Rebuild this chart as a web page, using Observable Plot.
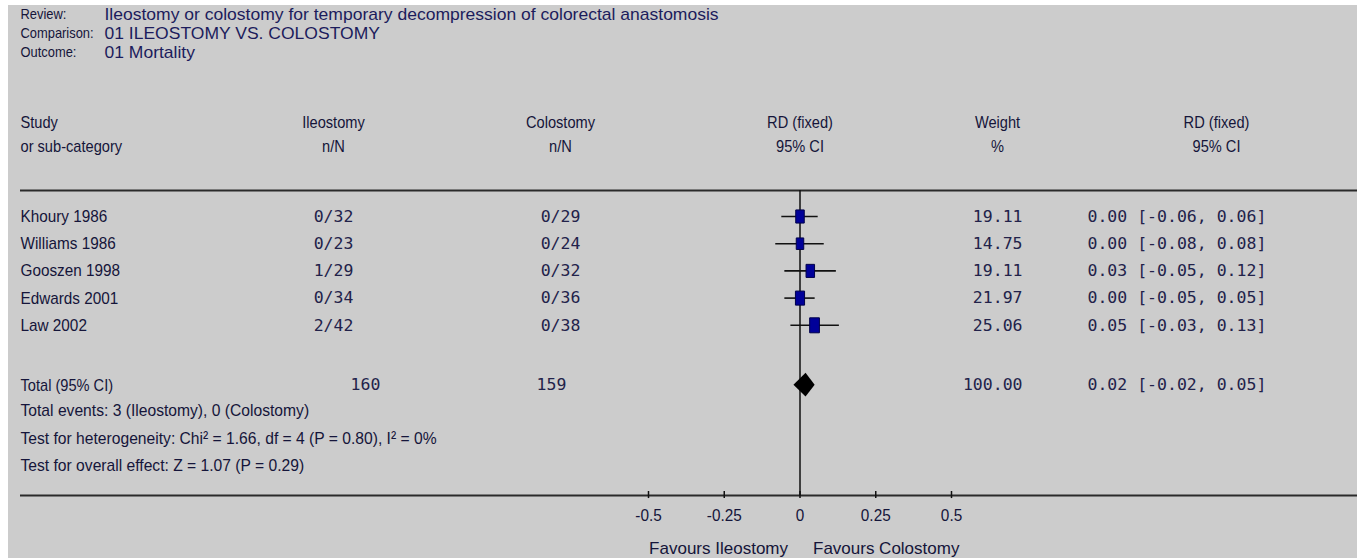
<!DOCTYPE html>
<html><head><meta charset="utf-8">
<script src="https://cdn.jsdelivr.net/npm/d3@7"></script>
<script src="https://cdn.jsdelivr.net/npm/@observablehq/plot@0.6"></script>
<style>
html,body{margin:0;padding:0;background:#fff;overflow:hidden}
#wrap{position:relative;width:1357px;height:558px;background:#cccccc}
#wrap svg{position:absolute;left:0;top:0}
.strip{position:absolute;background:#fff}
</style></head><body>
<div id="wrap"><div class="strip" style="left:0;top:0;width:8px;height:558px"></div><div class="strip" style="left:0;top:0;width:1357px;height:5px"></div></div>
<script>
// ---- data ----
const headerLabels = ["Review:", "Comparison:", "Outcome:"];
const headerValues = ["Ileostomy or colostomy for temporary decompression of colorectal anastomosis", "01 ILEOSTOMY VS. COLOSTOMY", "01 Mortality"];
const columnTitles = [["Study", "or sub-category"], ["Ileostomy", "n/N"], ["Colostomy", "n/N"], ["RD (fixed)", "95% CI"], ["Weight", "%"], ["RD (fixed)", "95% CI"]];
const studies = ["Khoury 1986", "Williams 1986", "Gooszen 1998", "Edwards 2001", "Law 2002"];
const ileoEvents = [0, 0, 1, 0, 2];
const ileoTotal = [32, 23, 29, 34, 42];
const coloEvents = [0, 0, 0, 0, 0];
const coloTotal = [29, 24, 32, 36, 38];
const rdValues = [0.00, 0.00, 0.034, 0.00, 0.048];
const ciLow = [-0.06, -0.08, -0.05, -0.05, -0.03];
const ciHigh = [0.06, 0.08, 0.12, 0.05, 0.13];
const weights = [19.11, 14.75, 19.11, 21.97, 25.06];
const totalLabel = "Total (95% CI)";
const totalIleo = 160, totalColo = 159, totalWeight = 100.00;
const totalRd = 0.02, totalLow = -0.02, totalHigh = 0.05;
const footnotes = ["Total events: 3 (Ileostomy), 0 (Colostomy)", "Test for heterogeneity: Chi² = 1.66, df = 4 (P = 0.80), I² = 0%", "Test for overall effect: Z = 1.07 (P = 0.29)"];
const tickValues = [-0.5, -0.25, 0, 0.25, 0.5];
const tickLabels = ["-0.5", "-0.25", "0", "0.25", "0.5"];
const favourLabels = ["Favours Ileostomy", "Favours Colostomy"];

// ---- layout (row units, pixel offsets) ----
const sans = '"Liberation Sans",Arial,sans-serif';
const mono = '"DejaVu Sans Mono","Liberation Mono",monospace';
const ink = "#15153a";
const numInk = "#22224a";
const totalRow = 6.2;
const footRows = [7.13, 8.16, 9.15];
const headerRows = [-7.43, -6.73, -6.03];
const colHeadRows = [-3.46, -2.57];
const headLine = -0.956, baseLine = 10.257;
const colDx = [0, 313, 540, null, 977, 1196];
const totalDx = [345, 531];
const ciDx = 1067, weightDx = 1002;
// horizontal squeeze of each group of sans-serif texts (reference uses a condensed face)
const squeeze = {"header labels": 0.86, "header values": 1.03, "column headers": 0.86, "study names": 0.9,
  "total label": 0.86, "footnotes": 0.92, "axis labels": 0.9, "favours labels": 1.0};

const ci = (r, l, h) => `${r.toFixed(2)} [${l.toFixed(2)}, ${h.toFixed(2)}]`;
const rows = studies.map((s, i) => ({
  study: s, row: i,
  ileo: `${ileoEvents[i]}/${ileoTotal[i]}`, colo: `${coloEvents[i]}/${coloTotal[i]}`,
  rd: rdValues[i], lo: ciLow[i], hi: ciHigh[i], w: weights[i],
  wtxt: weights[i].toFixed(2), citxt: ci(rdValues[i], ciLow[i], ciHigh[i])
}));
const totalRowData = [{row: totalRow, label: totalLabel, ileo: String(totalIleo), colo: String(totalColo), wtxt: totalWeight.toFixed(2), citxt: ci(totalRd, totalLow, totalHigh)}];
const diamondHalf = 0.44;
const diamond = [
  {x: totalLow, y1: totalRow, y2: totalRow},
  {x: totalRd, y1: totalRow - diamondHalf, y2: totalRow + diamondHalf},
  {x: totalHigh, y1: totalRow, y2: totalRow}
];
const headerData = headerLabels.map((l, i) => ({label: l, value: headerValues[i], row: headerRows[i]}));
const colHeadData = [];
columnTitles.forEach((t, c) => t.forEach((txt, k) => colHeadData.push({c, txt, row: colHeadRows[k]})));

const tallSquare = {
  draw(ctx, size) {
    const r = Math.sqrt(size / Math.PI), hw = r * 0.65, hh = r;
    ctx.moveTo(-hw, -hh); ctx.lineTo(hw, -hh); ctx.lineTo(hw, hh); ctx.lineTo(-hw, hh); ctx.closePath();
  }
};

const textOpts = {fontFamily: sans, fontSize: 17, fill: ink};
const monoOpts = {fontFamily: mono, fontSize: 16.5, fill: numInk};
const mid = {frameAnchor: "left", textAnchor: "middle"};
const colHead = (c, extra) => Plot.text(colHeadData.filter(d => d.c === c), {y: "row", text: "txt", ariaDescription: "column headers", ...extra, ...textOpts});

const chart = Plot.plot({
  width: 1357, height: 558,
  marginLeft: 20, marginRight: 0, marginTop: 0, marginBottom: 63,
  style: {background: "transparent", fontFamily: sans},
  x: {domain: [-0.5, 0.5], range: [648, 951], axis: null},
  y: {domain: [0, 10], range: [216, 488], axis: null},
  r: {type: "sqrt", domain: [0, 25.06], range: [0, 7.5]},
  marks: [
    // header block
    Plot.text(headerData, {y: "row", text: "label", frameAnchor: "left", textAnchor: "start", ariaDescription: "header labels", ...textOpts, fontSize: 15}),
    Plot.text(headerData, {y: "row", text: "value", frameAnchor: "left", textAnchor: "start", dx: 84, ariaDescription: "header values", ...textOpts, fill: "#1c1c5c"}),
    // column headers
    colHead(0, {frameAnchor: "left", textAnchor: "start"}),
    colHead(1, {...mid, dx: colDx[1]}),
    colHead(2, {...mid, dx: colDx[2]}),
    colHead(3, {x: 0}),
    colHead(4, {...mid, dx: colDx[4]}),
    colHead(5, {...mid, dx: colDx[5]}),
    // separators and zero line
    Plot.ruleY([headLine, baseLine], {stroke: "#2a2a2a", strokeWidth: 2}),
    Plot.ruleX([0], {y1: headLine, y2: baseLine, stroke: "#111", strokeWidth: 1.5}),
    // study rows
    Plot.text(rows, {y: "row", text: "study", frameAnchor: "left", textAnchor: "start", ariaDescription: "study names", ...textOpts}),
    Plot.text(rows, {y: "row", text: "ileo", ...mid, dx: colDx[1], ...monoOpts}),
    Plot.text(rows, {y: "row", text: "colo", ...mid, dx: colDx[2], ...monoOpts}),
    Plot.text(rows, {y: "row", text: "wtxt", frameAnchor: "left", dx: weightDx, textAnchor: "end", ...monoOpts}),
    Plot.text(rows, {y: "row", text: "citxt", frameAnchor: "left", dx: ciDx, textAnchor: "start", ...monoOpts}),
    Plot.ruleY(rows, {y: "row", x1: "lo", x2: "hi", stroke: "#111", strokeWidth: 1.6}),
    Plot.dot(rows, {x: "rd", y: "row", r: "w", symbol: tallSquare, fill: "#000099", stroke: "#00004a", strokeWidth: 1}),
    // total row
    Plot.text(totalRowData, {y: "row", text: "label", frameAnchor: "left", textAnchor: "start", ariaDescription: "total label", ...textOpts}),
    Plot.text(totalRowData, {y: "row", text: "ileo", ...mid, dx: totalDx[0], ...monoOpts}),
    Plot.text(totalRowData, {y: "row", text: "colo", ...mid, dx: totalDx[1], ...monoOpts}),
    Plot.text(totalRowData, {y: "row", text: "wtxt", frameAnchor: "left", dx: weightDx, textAnchor: "end", ...monoOpts}),
    Plot.text(totalRowData, {y: "row", text: "citxt", frameAnchor: "left", dx: ciDx, textAnchor: "start", ...monoOpts}),
    Plot.areaY(diamond, {x: "x", y1: "y1", y2: "y2", fill: "#000"}),
    // footnotes
    Plot.text(footnotes, {y: (d, i) => footRows[i], text: d => d, frameAnchor: "left", textAnchor: "start", ariaDescription: "footnotes", ...textOpts}),
    // axis
    Plot.ruleX(tickValues, {y1: 10.11, y2: 10.37, stroke: "#111", strokeWidth: 1.5}),
    Plot.text(tickValues, {x: d => d, y: 11.0, text: (d, i) => tickLabels[i], ariaDescription: "axis labels", ...textOpts}),
    Plot.text([favourLabels[0]], {x: 0, y: 12.2, text: d => d, textAnchor: "end", dx: -12, ariaDescription: "favours labels", ...textOpts}),
    Plot.text([favourLabels[1]], {x: 0, y: 12.2, text: d => d, textAnchor: "start", dx: 13, ariaDescription: "favours labels", ...textOpts})
  ]
});
document.getElementById("wrap").prepend(chart);
// narrow the sans-serif text groups
Object.entries(squeeze).forEach(([name, k]) => {
  chart.querySelectorAll(`g[aria-description="${name}"] text`).forEach(t => {
    const w = t.getComputedTextLength();
    t.setAttribute("textLength", (w * k).toFixed(1));
    t.setAttribute("lengthAdjust", "spacingAndGlyphs");
  });
});
</script>
</body></html>
